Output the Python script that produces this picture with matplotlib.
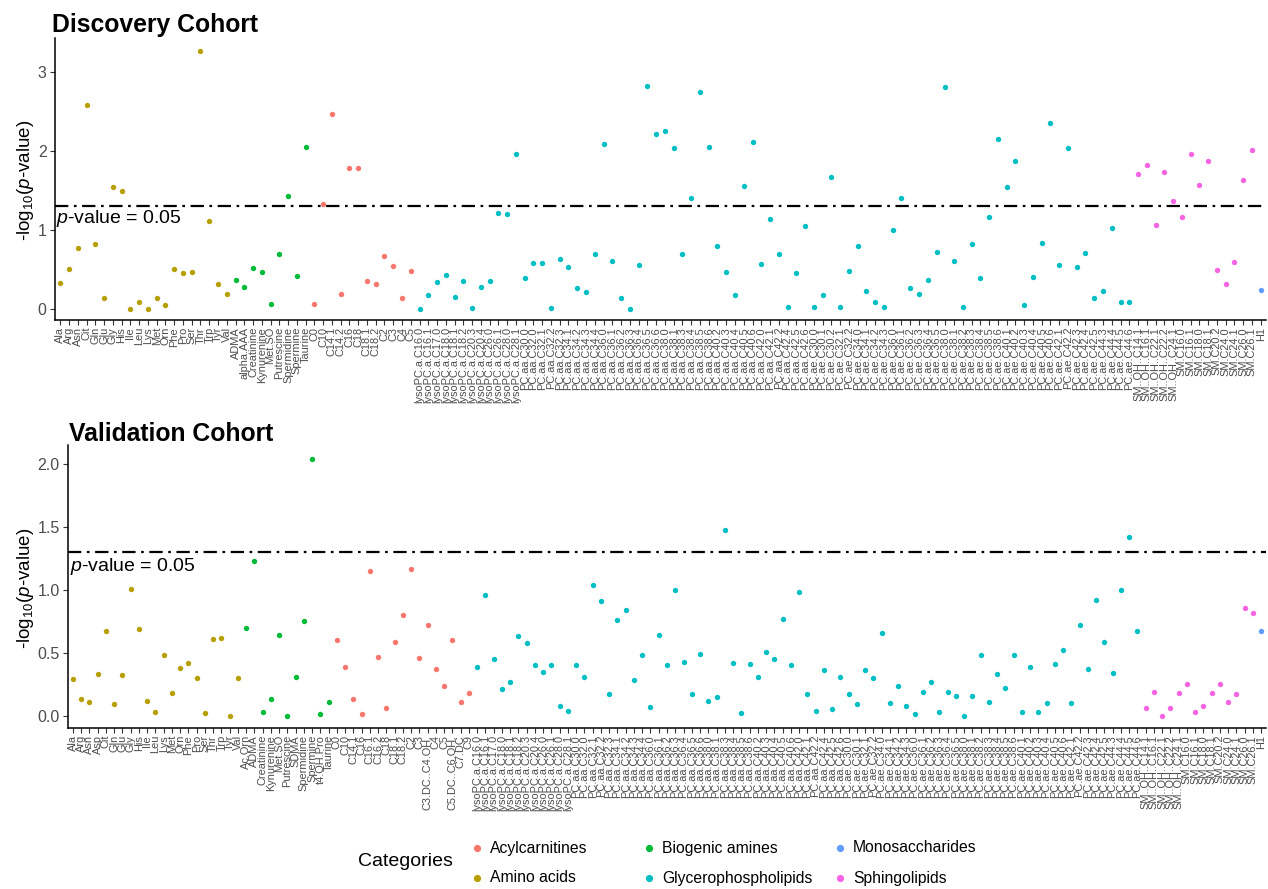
import matplotlib
matplotlib.use('Agg')
import matplotlib.pyplot as plt
from matplotlib.lines import Line2D

plt.rcParams['font.family'] = ['Liberation Sans', 'DejaVu Sans']
plt.rcParams['mathtext.fontset'] = 'custom'
plt.rcParams['mathtext.rm'] = 'Liberation Sans'
plt.rcParams['mathtext.it'] = 'Liberation Sans:italic'
plt.rcParams['mathtext.bf'] = 'Liberation Sans:bold'

COLORS = {
    'Acylcarnitines': '#F8766D',
    'Amino acids': '#B79F00',
    'Biogenic amines': '#00BA38',
    'Glycerophospholipids': '#00BFC4',
    'Monosaccharides': '#619CFF',
    'Sphingolipids': '#F564E3',
}

# ---------------- Discovery cohort ----------------
disc_aa = ['Ala', 'Arg', 'Asn', 'Cit', 'Gln', 'Glu', 'Gly', 'His', 'Ile', 'Leu',
           'Lys', 'Met', 'Orn', 'Phe', 'Pro', 'Ser', 'Thr', 'Trp', 'Tyr', 'Val']
disc_aa_vals = [0.33, 0.51, 0.77, 2.58, 0.82, 0.13, 1.55, 1.49, 0.00, 0.08,
                0.00, 0.13, 0.05, 0.50, 0.45, 0.47, 3.27, 1.11, 0.32, 0.19]

disc_ba = ['ADMA', 'alpha.AAA', 'Creatinine', 'Kynurenine', 'Met.SO',
           'Putrescine', 'Spermidine', 'Spermine', 'Taurine']
disc_ba_vals = [0.36, 0.28, 0.52, 0.47, 0.06, 0.69, 1.43, 0.41, 2.05]

disc_ac = ['C0', 'C10', 'C14.1', 'C14.2', 'C16', 'C18', 'C18.1', 'C18.2',
           'C2', 'C3', 'C4', 'C5']
disc_ac_vals = [0.06, 1.33, 2.47, 0.19, 1.78, 1.78, 0.35, 0.31, 0.67, 0.54, 0.13, 0.48]

lyso_names = ['lysoPC.a.C16.0', 'lysoPC.a.C16.1', 'lysoPC.a.C17.0', 'lysoPC.a.C18.0',
              'lysoPC.a.C18.1', 'lysoPC.a.C18.2', 'lysoPC.a.C20.3', 'lysoPC.a.C20.4',
              'lysoPC.a.C26.0', 'lysoPC.a.C26.1', 'lysoPC.a.C28.0', 'lysoPC.a.C28.1']
pcaa_names = ['PC.aa.C30.0', 'PC.aa.C32.0', 'PC.aa.C32.1', 'PC.aa.C32.2', 'PC.aa.C32.3',
              'PC.aa.C34.1', 'PC.aa.C34.2', 'PC.aa.C34.3', 'PC.aa.C34.4',
              'PC.aa.C36.0', 'PC.aa.C36.1', 'PC.aa.C36.2', 'PC.aa.C36.3', 'PC.aa.C36.4',
              'PC.aa.C36.5', 'PC.aa.C36.6', 'PC.aa.C38.0', 'PC.aa.C38.1', 'PC.aa.C38.3',
              'PC.aa.C38.4', 'PC.aa.C38.5', 'PC.aa.C38.6', 'PC.aa.C40.2', 'PC.aa.C40.3',
              'PC.aa.C40.4', 'PC.aa.C40.5', 'PC.aa.C40.6', 'PC.aa.C42.0', 'PC.aa.C42.1',
              'PC.aa.C42.2', 'PC.aa.C42.4', 'PC.aa.C42.5', 'PC.aa.C42.6']
pcae_names = ['PC.ae.C30.0', 'PC.ae.C30.1', 'PC.ae.C30.2', 'PC.ae.C32.1', 'PC.ae.C32.2',
              'PC.ae.C34.0', 'PC.ae.C34.1', 'PC.ae.C34.2', 'PC.ae.C34.3',
              'PC.ae.C36.0', 'PC.ae.C36.1', 'PC.ae.C36.2', 'PC.ae.C36.3', 'PC.ae.C36.4',
              'PC.ae.C36.5', 'PC.ae.C38.0', 'PC.ae.C38.1', 'PC.ae.C38.2', 'PC.ae.C38.3',
              'PC.ae.C38.4', 'PC.ae.C38.5', 'PC.ae.C38.6', 'PC.ae.C40.1', 'PC.ae.C40.2',
              'PC.ae.C40.3', 'PC.ae.C40.4', 'PC.ae.C40.5', 'PC.ae.C40.6', 'PC.ae.C42.1',
              'PC.ae.C42.2', 'PC.ae.C42.3', 'PC.ae.C42.4', 'PC.ae.C42.5', 'PC.ae.C44.3',
              'PC.ae.C44.4', 'PC.ae.C44.5', 'PC.ae.C44.6']
disc_gpl = lyso_names + pcaa_names + pcae_names
disc_gpl_vals = [0.00, 0.17, 0.34, 0.43, 0.15, 0.35, 0.01, 0.28, 0.35, 1.22, 1.20, 1.96,
                 0.39, 0.58, 0.58, 0.01, 0.63, 0.53, 0.26, 0.21, 0.70, 2.09, 0.60, 0.14,
                 0.00, 0.55, 2.83, 2.22, 2.25, 2.04, 0.69, 1.41, 2.75, 2.05, 0.79, 0.46,
                 0.17, 1.56, 2.11, 0.57, 1.14, 0.70, 0.02, 0.45, 1.05, 0.02, 0.18, 1.67,
                 0.02, 0.48, 0.80, 0.23, 0.09, 0.02, 1.00, 1.40, 0.26, 0.19, 0.37, 0.72,
                 2.81, 0.61, 0.02, 0.82, 0.39, 1.16, 2.15, 1.55, 1.87, 0.05, 0.40, 0.83,
                 2.36, 0.55, 2.04, 0.53, 0.71, 0.13, 0.23, 1.02, 0.08, 0.09]

sm_names = ['SM..OH..C14.1', 'SM..OH..C16.1', 'SM..OH..C22.1', 'SM..OH..C22.2',
            'SM..OH..C24.1', 'SM.C16.0', 'SM.C16.1', 'SM.C18.0', 'SM.C18.1', 'SM.C20.2',
            'SM.C24.0', 'SM.C24.1', 'SM.C26.0', 'SM.C26.1']
disc_sm_vals = [1.71, 1.82, 1.06, 1.73, 1.37, 1.16, 1.96, 1.57, 1.88, 0.49, 0.31, 0.59,
                1.63, 2.01]

ms_names = ['H1']
disc_ms_vals = [0.24]

# ---------------- Validation cohort ----------------
val_aa = ['Ala', 'Arg', 'Asn', 'Asp', 'Cit', 'Gln', 'Glu', 'Gly', 'His', 'Ile', 'Leu',
          'Lys', 'Met', 'Orn', 'Phe', 'Pro', 'Ser', 'Thr', 'Trp', 'Tyr', 'Val']
val_aa_vals = [0.29, 0.13, 0.11, 0.33, 0.67, 0.09, 0.32, 1.01, 0.69, 0.12, 0.03,
               0.48, 0.18, 0.38, 0.42, 0.30, 0.02, 0.61, 0.62, 0.00, 0.30]

val_ba = ['Ac.Orn', 'ADMA', 'Creatinine', 'Kynurenine', 'Met.SO', 'Putrescine', 'SDMA',
          'Spermidine', 'Spermine', 't4.OH.Pro', 'Taurine']
val_ba_vals = [0.70, 1.23, 0.03, 0.13, 0.64, 0.00, 0.31, 0.75, 2.04, 0.01, 0.11]

val_ac = ['C0', 'C10', 'C14.1', 'C16', 'C16.1', 'C16.2', 'C18', 'C18.1', 'C18.2', 'C2',
          'C3', 'C3.DC..C4.OH.', 'C4', 'C5', 'C5.DC..C6.OH.', 'C7.DC', 'C9']
val_ac_vals = [0.60, 0.39, 0.13, 0.01, 1.15, 0.47, 0.06, 0.59, 0.80, 1.17, 0.46, 0.72,
               0.37, 0.24, 0.60, 0.11, 0.18]

val_gpl = lyso_names + pcaa_names + [n for n in pcae_names if n != 'PC.ae.C30.2']
val_gpl_vals = [0.39, 0.96, 0.45, 0.21, 0.27, 0.63, 0.58, 0.40, 0.35, 0.40, 0.08, 0.04,
                0.40, 0.31, 1.04, 0.91, 0.17, 0.76, 0.84, 0.28, 0.48, 0.07, 0.64, 0.40,
                1.00, 0.43, 0.17, 0.49, 0.12, 0.15, 1.48, 0.42, 0.02, 0.41, 0.31, 0.51,
                0.45, 0.77, 0.40, 0.98, 0.17, 0.04, 0.36, 0.05, 0.31, 0.17, 0.09, 0.36,
                0.30, 0.66, 0.10, 0.24, 0.08, 0.01, 0.19, 0.27, 0.03, 0.19, 0.16, 0.00,
                0.16, 0.48, 0.11, 0.33, 0.22, 0.48, 0.03, 0.39, 0.03, 0.10, 0.41, 0.52,
                0.10, 0.72, 0.37, 0.92, 0.59, 0.34, 1.00, 1.42, 0.67]

val_sm_vals = [0.06, 0.19, 0.00, 0.06, 0.18, 0.25, 0.03, 0.08, 0.18, 0.25, 0.11, 0.17,
               0.86, 0.82]
val_ms_vals = [0.67]

legend_order = ['Acylcarnitines', 'Amino acids', 'Biogenic amines', 'Glycerophospholipids',
                'Monosaccharides', 'Sphingolipids']

THRESH = 1.3010  # -log10(0.05)

W, H = 1268, 889
fig = plt.figure(figsize=(W / 100, H / 100), dpi=100)


def add_panel(rect, groups, ylim, yticks, yticklabels, title, title_xy, note_xy):
    ax = fig.add_axes(rect)
    names_all = []
    pos = 0
    for cat, names, vals in groups:
        xs = list(range(pos, pos + len(names)))
        ax.scatter(xs, vals, s=15, color=COLORS[cat], linewidths=0, zorder=3)
        names_all += names
        pos += len(names)
    n = len(names_all)
    ax.set_xlim(-0.6, n - 1 + 0.6)
    ax.set_ylim(*ylim)
    ax.set_xticks(range(n))
    ax.set_xticklabels(names_all, rotation=90, fontsize=7.9, color='#4D4D4D',
                       ha='center', va='top')
    ax.set_yticks(yticks)
    ax.set_yticklabels(yticklabels, fontsize=11.5, color='#4D4D4D')
    ax.tick_params(axis='x', length=3.5, width=0.8, color='#333333', pad=1.5)
    ax.tick_params(axis='y', length=3.5, width=0.8, color='#333333', pad=2.5)
    for s in ['top', 'right']:
        ax.spines[s].set_visible(False)
    for s in ['left', 'bottom']:
        ax.spines[s].set_linewidth(1.1)
        ax.spines[s].set_color('black')
    ax.axhline(THRESH, color='black', lw=1.6, linestyle=(0, (6, 2.5, 1.2, 2.5)), zorder=2)
    ax.text(note_xy[0], note_xy[1], '$\\it{p}$-value = 0.05', fontsize=14,
            ha='left', va='center', color='black')
    fig.text(title_xy[0] / W, 1 - title_xy[1] / H, title, fontsize=17.8,
             fontweight='bold', ha='left', va='center')
    return ax


ax1 = add_panel([55 / W, 1 - 320 / H, (1266 - 55) / W, (320 - 38) / H],
                [('Amino acids', disc_aa, disc_aa_vals),
                 ('Biogenic amines', disc_ba, disc_ba_vals),
                 ('Acylcarnitines', disc_ac, disc_ac_vals),
                 ('Glycerophospholipids', disc_gpl, disc_gpl_vals),
                 ('Sphingolipids', sm_names, disc_sm_vals),
                 ('Monosaccharides', ms_names, disc_ms_vals)],
                (-0.143, 3.435), [0, 1, 2, 3], ['0', '1', '2', '3'],
                'Discovery Cohort', (52, 25), (-0.45, 1.15))

ax2 = add_panel([68 / W, 1 - 728 / H, (1266 - 68) / W, (728 - 445) / H],
                [('Amino acids', val_aa, val_aa_vals),
                 ('Biogenic amines', val_ba, val_ba_vals),
                 ('Acylcarnitines', val_ac, val_ac_vals),
                 ('Glycerophospholipids', val_gpl, val_gpl_vals),
                 ('Sphingolipids', sm_names, val_sm_vals),
                 ('Monosaccharides', ms_names, val_ms_vals)],
                (-0.098, 2.153), [0, 0.5, 1.0, 1.5, 2.0], ['0.0', '0.5', '1.0', '1.5', '2.0'],
                'Validation Cohort', (69, 434), (-0.35, 1.19))

ylab = '-log$_{10}$($\\it{p}$-value)'
fig.text(25 / W, 1 - 180 / H, ylab, rotation=90, fontsize=13.5, ha='center', va='center')
fig.text(25 / W, 1 - 588 / H, ylab, rotation=90, fontsize=13.5, ha='center', va='center')

# Legend (three columns, two rows, title on the left)
dot_x = [477, 649, 840]
row_y = [848, 878]
for i, cat in enumerate(legend_order):
    cx = dot_x[i // 2]
    cy = row_y[i % 2]
    fig.add_artist(Line2D([cx / W], [1 - cy / H], marker='o', linestyle='none',
                          markersize=5.2, markerfacecolor=COLORS[cat],
                          markeredgewidth=0, transform=fig.transFigure))
    fig.text((cx + 13) / W, 1 - cy / H, cat, fontsize=11.3, ha='left', va='center')
fig.text(358 / W, 1 - 862 / H, 'Categories', fontsize=14, ha='left', va='center')

fig.savefig('out.png', dpi=100)
